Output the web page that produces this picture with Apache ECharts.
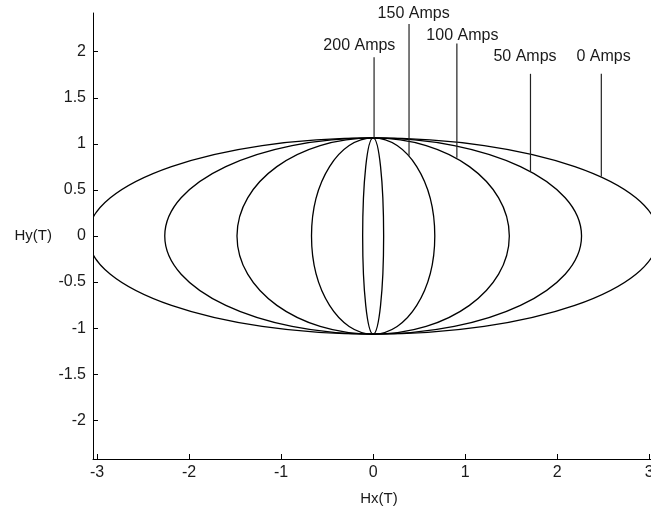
<!DOCTYPE html>
<html>
<head>
<meta charset="utf-8">
<script src="https://cdn.jsdelivr.net/npm/echarts@6/dist/echarts.min.js"></script>
<style>
  html, body { margin: 0; padding: 0; background: #fff; }
  #char { width: 651px; height: 512px; }
</style>
</head>
<body>
<div id="char"></div>
<script>
// drive currents and the ellipse half-axes (Tesla)
var currents = ['0 Amps', '50 Amps', '100 Amps', '150 Amps', '200 Amps']
var semiX = [3.1, 2.265, 1.48, 0.67, 0.114]
var semiY = [1.065, 1.065, 1.065, 1.065, 1.065]

// annotation leaders and label spots
var leaderX = [2.48, 1.71, 0.91, 0.39, 0.01]
var leaderBottom = [0.645, 0.70, 0.85, 0.87, 1.065]
var leaderTop = [1.76, 1.76, 2.09, 2.30, 1.94]
var labelX = [2.505, 1.65, 0.97, 0.44, -0.15]
var labelY = [1.95, 1.95, 2.18, 2.41, 2.07]

var xTicks = [-3, -2, -1, 0, 1, 2, 3]
var yTicks = [-2, -1.5, -1, -0.5, 0, 0.5, 1, 1.5, 2]

var font = 'Liberation Sans, Arial, sans-serif'
var textColor = '#1a1a1a'

var ellipseData = []
var leaderData = []
for (var i = 0; i < currents.length; i++) {
  ellipseData.push({ name: currents[i], value: [semiX[i], semiY[i]] })
  leaderData.push({
    name: currents[i],
    value: [leaderX[i], leaderBottom[i], leaderTop[i], labelX[i], labelY[i]]
  })
}

var myChart = echarts.init(document.getElementById('char'))
myChart.setOption({
  animation: false,
  grid: {
    left: 93,
    right: 0,
    top: 13,
    bottom: 53,
    containLabel: false,
    outerBoundsMode: 'none'
  },
  xAxis: {
    type: 'value',
    min: -3.045,
    max: 3.02,
    name: 'Hx(T)',
    nameLocation: 'middle',
    nameGap: 32,
    nameTextStyle: {
      color: textColor,
      fontFamily: font,
      fontSize: 15,
      padding: [0, 0, 0, 14]
    },
    axisLine: { onZero: false, lineStyle: { color: '#000', width: 1 } },
    axisTick: { inside: true, length: 5, customValues: xTicks, lineStyle: { color: '#000' } },
    axisLabel: {
      customValues: xTicks,
      margin: 6,
      color: textColor,
      fontFamily: font,
      fontSize: 16
    },
    splitLine: { show: false }
  },
  yAxis: {
    type: 'value',
    min: -2.42,
    max: 2.42,
    name: 'Hy(T)',
    nameLocation: 'middle',
    nameRotate: 0,
    nameGap: 41,
    nameTextStyle: {
      color: textColor,
      fontFamily: font,
      fontSize: 15
    },
    axisLine: { show: true, onZero: false, lineStyle: { color: '#000', width: 1 } },
    axisTick: { show: true, inside: true, length: 5, customValues: yTicks, lineStyle: { color: '#000' } },
    axisLabel: {
      customValues: yTicks,
      margin: 7,
      color: textColor,
      fontFamily: font,
      fontSize: 16
    },
    splitLine: { show: false }
  },
  series: [
    {
      name: 'ellipses',
      type: 'custom',
      clip: true,
      encode: { x: 0, y: 1 },
      renderItem: function (params, api) {
        var c = api.coord([0, 0])
        var s = api.size([api.value(0), api.value(1)])
        return {
          type: 'ellipse',
          shape: { cx: c[0], cy: c[1], rx: s[0], ry: s[1] },
          style: { fill: 'none', stroke: '#000', lineWidth: 1.3 }
        }
      },
      data: ellipseData
    },
    {
      name: 'labels',
      type: 'custom',
      clip: false,
      encode: { x: [0, 3], y: [1, 2, 4] },
      renderItem: function (params, api) {
        var p0 = api.coord([api.value(0), api.value(1)])
        var p1 = api.coord([api.value(0), api.value(2)])
        var pt = api.coord([api.value(3), api.value(4)])
        return {
          type: 'group',
          children: [
            {
              type: 'line',
              shape: { x1: p0[0], y1: p0[1], x2: p1[0], y2: p1[1] },
              style: { stroke: '#222', lineWidth: 1.2 }
            },
            {
              type: 'text',
              style: {
                x: pt[0],
                y: pt[1],
                text: currents[params.dataIndex],
                fill: textColor,
                font: '16px ' + font,
                align: 'center',
                verticalAlign: 'middle'
              }
            }
          ]
        }
      },
      data: leaderData
    }
  ]
})
</script>
</body>
</html>
